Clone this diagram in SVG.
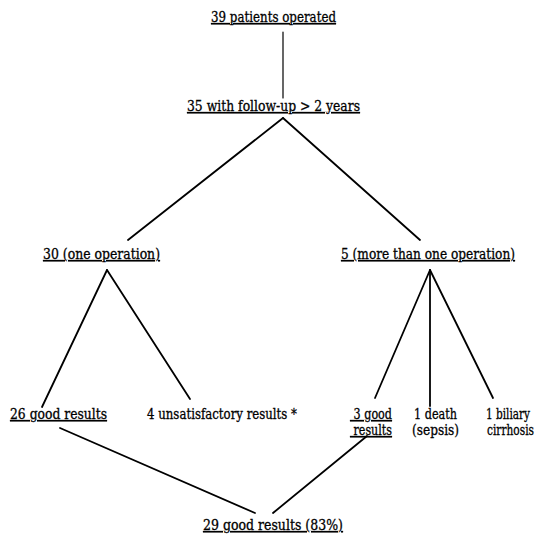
<svg xmlns="http://www.w3.org/2000/svg" width="541" height="540" viewBox="0 0 541 540">
<style>
.t text{font-family:"DejaVu Serif","Liberation Serif",serif;font-size:14px;fill:#000;stroke:#000;stroke-width:0.3}
.u{text-decoration:underline}
.c line{stroke:#000;stroke-width:1.8;stroke-linecap:round}
</style>
<rect width="541" height="540" fill="#fff"/>
<g class="c" id="connectors">
<line x1="283" y1="32" x2="283" y2="98" style="stroke-width:1.2"/>
<line x1="283" y1="118" x2="128" y2="240"/>
<line x1="283" y1="118" x2="420" y2="240"/>
<line x1="107" y1="270" x2="42" y2="407"/>
<line x1="107" y1="270" x2="190" y2="399"/>
<line x1="430" y1="270" x2="375" y2="398"/>
<line x1="430" y1="270" x2="430" y2="406"/>
<line x1="430" y1="270" x2="493" y2="398"/>
<line x1="60" y1="428" x2="255" y2="513"/>
<line x1="367" y1="436" x2="273" y2="513"/>
</g>
<g class="t">
<g id="n1"><text class="u" x="211" y="22" textLength="125" lengthAdjust="spacingAndGlyphs">39 patients operated</text></g>
<g id="n2"><text class="u" x="187" y="111" textLength="173" lengthAdjust="spacingAndGlyphs">35 with follow-up &gt; 2 years</text></g>
<g id="n3"><text class="u" x="43" y="259" textLength="117" lengthAdjust="spacingAndGlyphs">30 (one operation)</text></g>
<g id="n4"><text class="u" x="341" y="259" textLength="174" lengthAdjust="spacingAndGlyphs">5 (more than one operation)</text></g>
<g id="n5"><text class="u" x="10" y="419" textLength="97" lengthAdjust="spacingAndGlyphs">26 good results</text></g>
<g id="n6"><text x="147" y="419" textLength="150" lengthAdjust="spacingAndGlyphs">4 unsatisfactory results *</text></g>
<g id="n7"><text class="u" x="350" y="419" textLength="42" lengthAdjust="spacingAndGlyphs" xml:space="preserve"> 3 good</text><text class="u" x="350" y="435" textLength="42" lengthAdjust="spacingAndGlyphs" xml:space="preserve"> results</text></g>
<g id="n8"><text x="414" y="419" textLength="43" lengthAdjust="spacingAndGlyphs">1 death</text><text x="412" y="435" textLength="47" lengthAdjust="spacingAndGlyphs">(sepsis)</text></g>
<g id="n9"><text x="486" y="419" textLength="44" lengthAdjust="spacingAndGlyphs">1 biliary</text><text x="487" y="435" textLength="47" lengthAdjust="spacingAndGlyphs">cirrhosis</text></g>
<g id="n10"><text class="u" x="203" y="530" textLength="140" lengthAdjust="spacingAndGlyphs">29 good results (83%)</text></g>
</g>
</svg>
